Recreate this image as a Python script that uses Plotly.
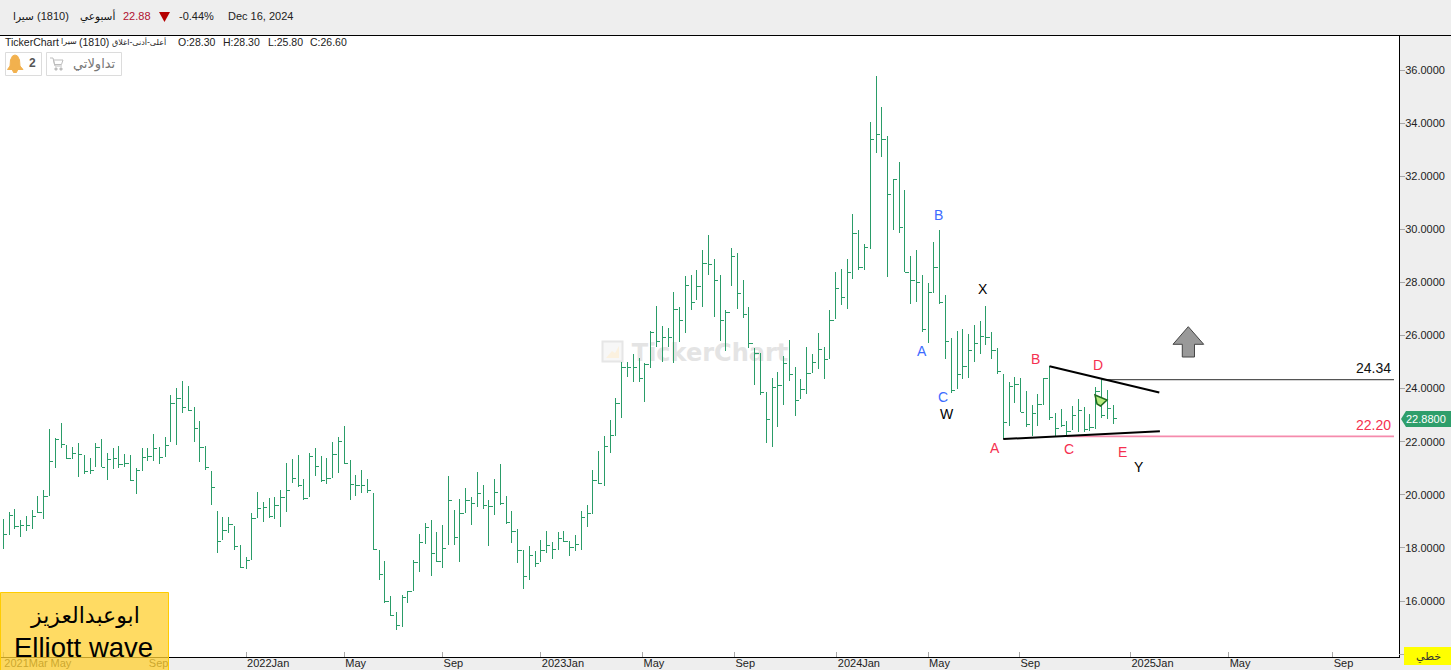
import plotly.graph_objects as go

highs = [19.09,19.34,19.47,19.05,19.20,19.43,19.95,20.18,22.48,22.13,22.70,21.87,21.79,21.95,21.50,21.37,21.94,22.10,21.56,21.78,21.84,21.52,21.50,21.00,21.75,21.75,22.29,21.79,22.16,23.76,24.01,24.29,24.10,23.32,22.78,21.84,20.90,19.39,19.18,19.16,18.84,
18.11,17.64,19.30,20.11,19.72,19.88,19.92,20.17,21.20,21.35,21.50,20.59,21.56,21.76,21.46,21.37,21.98,22.16,22.59,21.31,20.75,20.93,20.59,20.07,17.92,17.51,16.19,15.57,16.21,16.38,17.53,18.52,18.93,19.05,18.60,18.86,20.71,19.43,19.84,20.26,19.92,20.86,
20.36,19.80,20.60,21.16,19.95,19.39,18.71,17.91,18.06,17.87,18.29,18.62,18.21,18.59,18.62,18.25,18.47,19.39,19.60,20.93,21.65,22.21,22.80,23.63,24.99,24.99,25.29,25.14,24.95,26.16,27.11,26.36,26.28,27.64,27.06,28.24,28.28,28.47,29.22,29.79,28.88,
28.28,26.96,29.30,29.09,28.09,27.07,25.52,25.33,23.87,24.40,24.61,25.22,25.82,24.80,24.35,25.55,25.30,26.08,25.55,26.95,28.39,28.50,28.87,30.58,29.97,29.45,34.04,35.77,34.61,33.50,31.88,32.53,31.48,28.99,29.22,28.28,27.98,29.52,29.97,27.53,25.91,26.18,
26.24,26.06,26.40,26.55,27.11,26.13,25.53,24.55,24.24,24.44,24.40,23.90,23.37,23.78,24.40,24.84,23.07,23.23,22.78,23.34,23.60,23.29,23.04,24.06,24.35,23.93,23.38]
lows = [17.96,18.49,18.71,18.42,18.64,18.71,19.30,19.10,19.95,21.02,21.78,21.34,21.34,20.68,20.80,20.80,21.03,21.03,20.56,20.97,21.00,21.06,20.52,20.04,20.90,21.27,21.29,21.16,21.41,22.00,21.89,23.09,23.14,22.00,21.25,20.93,19.63,17.82,18.30,18.55,17.92,
17.23,17.19,17.54,19.14,18.99,19.14,19.09,18.80,19.36,20.44,20.31,19.82,19.93,20.71,20.49,20.41,20.65,20.83,21.15,19.80,19.95,20.08,20.08,17.92,16.79,15.91,15.44,14.92,15.03,15.94,16.39,17.10,18.16,16.95,17.46,17.26,18.12,18.12,17.48,19.33,18.86,19.55,
19.45,18.08,19.25,19.60,18.89,18.20,17.44,16.46,16.80,17.29,17.47,17.80,17.59,17.92,18.23,17.71,17.90,17.93,18.80,19.29,20.41,20.34,21.59,22.23,22.91,24.45,24.26,24.25,23.51,24.79,25.58,25.01,25.58,24.98,25.77,26.11,26.96,27.34,27.09,28.28,26.71,
25.81,25.43,27.88,27.01,26.67,25.54,24.15,23.77,21.96,21.81,22.57,23.39,24.30,22.98,23.61,23.81,24.58,24.75,24.37,25.13,26.63,27.16,26.99,28.14,28.48,28.48,29.27,32.89,32.74,28.22,29.99,29.87,28.38,27.20,27.27,26.14,25.73,27.59,27.20,25.13,23.85,23.98,
24.35,24.41,25.00,25.32,25.65,25.13,24.54,22.10,22.59,23.47,23.11,22.56,22.21,22.59,23.39,22.83,22.21,22.54,22.24,22.44,22.37,22.35,22.39,22.49,22.88,22.84,22.68]
closes = [18.51,19.21,18.80,18.84,18.84,19.18,19.34,19.95,21.27,22.10,21.90,21.35,21.56,21.52,20.86,20.90,21.79,21.03,21.34,21.37,21.15,21.17,20.55,20.93,21.40,21.45,21.75,21.41,21.85,23.43,23.63,23.28,23.17,22.50,21.79,21.02,20.29,18.25,18.64,18.90,18.06,
17.27,17.53,19.11,19.50,19.54,19.18,19.60,19.90,20.17,20.62,20.34,19.85,21.46,21.07,20.53,20.62,21.52,21.99,21.17,20.39,20.36,20.36,20.17,17.93,16.98,15.99,15.45,15.08,16.15,16.36,17.46,18.21,18.77,17.80,17.49,17.98,19.80,18.41,19.30,19.79,19.68,20.06,
19.60,19.57,20.09,19.68,18.96,18.62,17.91,16.93,17.72,17.42,17.91,18.10,17.95,18.36,18.25,18.02,18.11,19.15,19.30,20.54,20.43,21.83,22.24,23.45,24.80,24.80,24.78,24.39,24.89,26.12,25.78,25.94,25.91,26.99,26.55,27.89,27.26,27.85,28.72,28.68,28.09,
26.58,26.87,28.98,27.59,26.80,25.71,25.33,23.86,22.84,24.05,24.12,24.95,24.54,23.56,23.97,24.58,24.99,25.48,25.10,26.57,27.78,27.44,28.38,29.85,28.57,29.32,33.39,33.58,33.39,31.32,31.88,30.07,28.38,28.08,28.00,26.23,27.63,28.57,27.24,25.78,23.93,24.55,
24.85,25.45,25.71,25.97,25.94,25.42,24.65,22.73,24.07,24.16,23.11,22.65,23.07,23.42,24.39,22.92,22.50,22.62,22.37,22.99,23.18,22.47,22.53,23.88,22.99,23.26,22.88]

tick_pos = [0, 8, 25, 42, 59, 76, 93, 110.6, 126.5, 144.2, 160, 175.8, 195, 212, 230]
tick_labels = ["2021Mar", "May", "Sep", "2022Jan", "May", "Sep", "2023Jan", "May", "Sep", "2024Jan", "May", "Sep", "2025Jan", "May", "Sep"]
price_ticks = [16, 18, 20, 22, 24, 26, 28, 30, 32, 34, 36]

resistance = 24.34
support = 22.20
last_close = 22.88
tri_upper_i = [181, 200]
tri_upper_v = [24.84, 23.85]
tri_lower_i = [173, 200.1]
tri_lower_v = [22.10, 22.39]
res_i = [190, 240.6]
sup_i = [184, 240.6]

GREEN = "#2A9C68"
FONT = "Liberation Sans, DejaVu Sans, sans-serif"
AR = "DejaVu Sans, sans-serif"
BLUE = "#3D6BFF"
RED = "#F5304F"

W, H, PR, PB, PT = 1451, 670, 52, 13, 36
def X(p): return p / (W - PR)
def Y(p): return (H - PB - p) / (H - PB - PT)
def path(pts, close=True):
    s = "M" + " L".join(f"{X(a):.5f},{Y(b):.5f}" for a, b in pts)
    return s + (" Z" if close else "")

rng_x = [-0.571, 241.47]
rng_y = [13.891, 37.281]

vx, vy, cx, cy = [], [], [], []
for i, (h, l, c) in enumerate(zip(highs, lows, closes)):
    vx += [i, i, None]
    vy += [l, h, None]
    cx += [i, i + 0.66, None]
    cy += [c, c, None]

fig = go.Figure()
fig.add_trace(go.Scatter(x=vx, y=vy, mode="lines", line=dict(color=GREEN, width=1), hoverinfo="skip", showlegend=False))
fig.add_trace(go.Scatter(x=cx, y=cy, mode="lines", line=dict(color=GREEN, width=1), hoverinfo="skip", showlegend=False))
fig.add_trace(go.Scatter(x=sup_i, y=[support, support], mode="lines", line=dict(color="#F58BAD", width=1.6), hoverinfo="skip", showlegend=False))
fig.add_trace(go.Scatter(x=res_i, y=[resistance, resistance], mode="lines", line=dict(color="#555555", width=1.4), hoverinfo="skip", showlegend=False))
fig.add_trace(go.Scatter(x=tri_upper_i, y=tri_upper_v, mode="lines", line=dict(color="black", width=2), hoverinfo="skip", showlegend=False))
fig.add_trace(go.Scatter(x=tri_lower_i, y=tri_lower_v, mode="lines", line=dict(color="black", width=2), hoverinfo="skip", showlegend=False))

shapes = []
def rect(x0, y0, x1, y1, fill="rgba(0,0,0,0)", line="rgba(0,0,0,0)", lw=1, layer="above", **kw):
    shapes.append(dict(type="rect", xref="paper", yref="paper", x0=X(x0), x1=X(x1), y0=Y(y1), y1=Y(y0),
                       fillcolor=fill, line=dict(color=line, width=lw), layer=layer, **kw))
def poly(pts, fill="rgba(0,0,0,0)", line="rgba(0,0,0,0)", lw=1, close=True, layer="above"):
    shapes.append(dict(type="path", xref="paper", yref="paper", path=path(pts, close), fillcolor=fill,
                       line=dict(color=line, width=lw), layer=layer))

# frame line along the top
shapes.append(dict(type="line", xref="paper", yref="paper", x0=0, x1=X(W), y0=Y(35.5), y1=Y(35.5), line=dict(color="black", width=1)))
# buttons
rect(5.5, 52.5, 41.5, 75.5, fill="white", line="#DCDCDC")
rect(46.5, 52.5, 121.5, 75.5, fill="white", line="#DCDCDC")
# bell
poly([(15, 55), (17.5, 56), (19.5, 60), (20, 66), (23, 69.5), (7.5, 69.5), (10, 66), (10.5, 60), (12.5, 56)], fill="#F2B14E", line="#F2B14E")
poly([(12.5, 70), (17.5, 70), (16.5, 72.5), (13.5, 72.5)], fill="#F2B14E", line="#F2B14E")
# cart
poly([(50, 58), (53, 58), (55, 66), (62, 66)], line="#BDBDBD", close=False)
poly([(53.5, 60), (63, 60), (61.5, 64.5), (54.5, 64.5)], line="#BDBDBD")
poly([(55, 68), (57, 68), (57, 70), (55, 70)], fill="#BDBDBD", line="#BDBDBD")
poly([(60, 68), (62, 68), (62, 70), (60, 70)], fill="#BDBDBD", line="#BDBDBD")
# watermark
rect(602.5, 341.5, 622.5, 361.5, fill="#F7F7F7", line="#E6E6E6", lw=2, layer="below")
poly([(606, 358), (612, 351), (615, 353), (619, 346), (619, 358)], fill="#FBF1DF", layer="below")
shapes.append(dict(type="rect", xref="paper", yref="paper", x0=X(628), x1=X(792), y0=Y(362), y1=Y(339),
                   line=dict(width=0), fillcolor="rgba(0,0,0,0)", layer="below",
                   label=dict(text="<b>TickerChart</b>", font=dict(size=24, color="#E4E4E4", family="DejaVu Sans"), textposition="middle center")))
# arrow up
poly([(1188.3, 326.7), (1203.7, 344.3), (1194.5, 344.3), (1194.5, 357), (1182.3, 357), (1182.3, 344.3), (1173, 344.3)], fill="#999999", line="#444444")
# small green marker
poly([(1095, 395), (1107, 400), (1100.5, 406), (1097, 404)], fill="#B4EA7C", line="#1E6B1E", lw=1.5)
# author box
rect(0.5, 592.5, 168.5, 672, fill="rgba(255,208,50,0.76)", line="#FFCC00")
# price tag
poly([(1401, 419), (1406, 411), (1452, 411), (1452, 427), (1406, 427)], fill="#2E9E6B")
# line-style chip
shapes.append(dict(type="line", xref="paper", yref="paper", x0=X(1399), x1=X(1404), y0=Y(654.5), y1=Y(654.5), line=dict(color="#AAAAAA", width=1)))
rect(1404, 647, 1452, 665, fill="#FFFF00")
# small down triangle in the header
poly([(159, 12), (170, 12), (164.5, 22)], fill="#B50000")

ann = []
def txt(x, y, s, size=11, color="black", anchor="center", family=FONT):
    ann.append(dict(xref="paper", yref="paper", x=X(x), y=Y(y), text=s, showarrow=False, xanchor=anchor, yanchor="middle",
                    borderpad=0, borderwidth=0, font=dict(size=size, color=color, family=family), align="center"))

# header strip
txt(13, 16, "سيرا", 10.5, "#111111", "left", AR)
txt(37, 16, "(1810)", 11, "#222222", "left")
txt(80, 16, "أسبوعي", 10.5, "#111111", "left", AR)
txt(123, 16, "22.88", 11, "#B01030", "left")
txt(179, 16, "-0.44%", 11, "#222222", "left")
txt(228, 16, "Dec 16, 2024", 11, "#222222", "left")
# legend strip
txt(5, 41.5, "TickerChart", 10.5, "#222222", "left")
txt(61, 41.5, "سيرا", 8, "#222222", "left", AR)
txt(79, 41.5, "(1810)", 10.5, "#222222", "left")
txt(112, 41.5, "أعلى-أدنى-اغلاق", 8, "#222222", "left", AR)
txt(178, 41.5, "O:28.30", 10.5, "#222222", "left")
txt(223, 41.5, "H:28.30", 10.5, "#222222", "left")
txt(268, 41.5, "L:25.80", 10.5, "#222222", "left")
txt(310, 41.5, "C:26.60", 10.5, "#222222", "left")
# buttons
txt(32, 63.5, "<b>2</b>", 12, "#555555")
txt(94, 64, "تداولاتي", 13, "#777777", "center", AR)
# wave labels
for x, y, s, c in [(938, 215, "B", BLUE), (922, 351, "A", BLUE), (943, 397, "C", BLUE),
                   (947, 414, "W", "black"), (983, 289, "X", "black"), (1139, 467, "Y", "black"),
                   (995, 448, "A", RED), (1035, 359, "B", RED), (1069, 449, "C", RED), (1098, 365, "D", RED), (1122, 452, "E", RED)]:
    txt(x, y, s, 14, c)
txt(1391, 368, "24.34", 14, "#111111", "right")
txt(1391, 425, "22.20", 14, RED, "right")
# author box
txt(85, 615, "ابوعبدالعزيز", 22, "black", "center", AR)
txt(83, 647, "Elliott wave", 27.5, "black")
# right side chips
txt(1426, 419, "22.8800", 11, "white")
txt(1428, 656, "خطي", 11, "#333333", "center", AR)

fig.update_layout(
    width=W, height=H, margin=dict(l=0, r=PR, t=PT, b=PB, autoexpand=False),
    paper_bgcolor="#EEEEEE", plot_bgcolor="white", showlegend=False,
    font=dict(family=FONT, size=11, color="#222222"),
    shapes=shapes, annotations=ann,
    xaxis=dict(range=rng_x, tickmode="array", tickvals=tick_pos, ticktext=tick_labels, ticks="inside", ticklen=5, tickcolor="#A8A8A8",
               tickwidth=1, showgrid=False, zeroline=False, showline=True, linecolor="black", linewidth=1,
               ticklabelposition="outside right", tickfont=dict(size=11, color="#222222"), fixedrange=True, ticklabelstandoff=-4),
    yaxis=dict(range=rng_y, side="right", tickmode="array", tickvals=price_ticks, tickformat=".4f", ticks="outside", ticklen=5,
               tickcolor="#A8A8A8", tickwidth=1, showgrid=False, zeroline=False, showline=True, linecolor="black", linewidth=1,
               tickfont=dict(size=11, color="#222222"), fixedrange=True, ticklabelstandoff=-2),
)
crisp = """
document.body.style.margin='0';
document.documentElement.style.overflow='hidden';
var ts = document.querySelectorAll('.scatterlayer .trace');
for (var k = 0; k < 2 && k < ts.length; k++) {
  ts[k].querySelectorAll('path').forEach(function(p){ p.style.shapeRendering = 'crispEdges'; });
}
"""
fig.write_html("out.html", config=dict(displayModeBar=False), post_script=crisp)
